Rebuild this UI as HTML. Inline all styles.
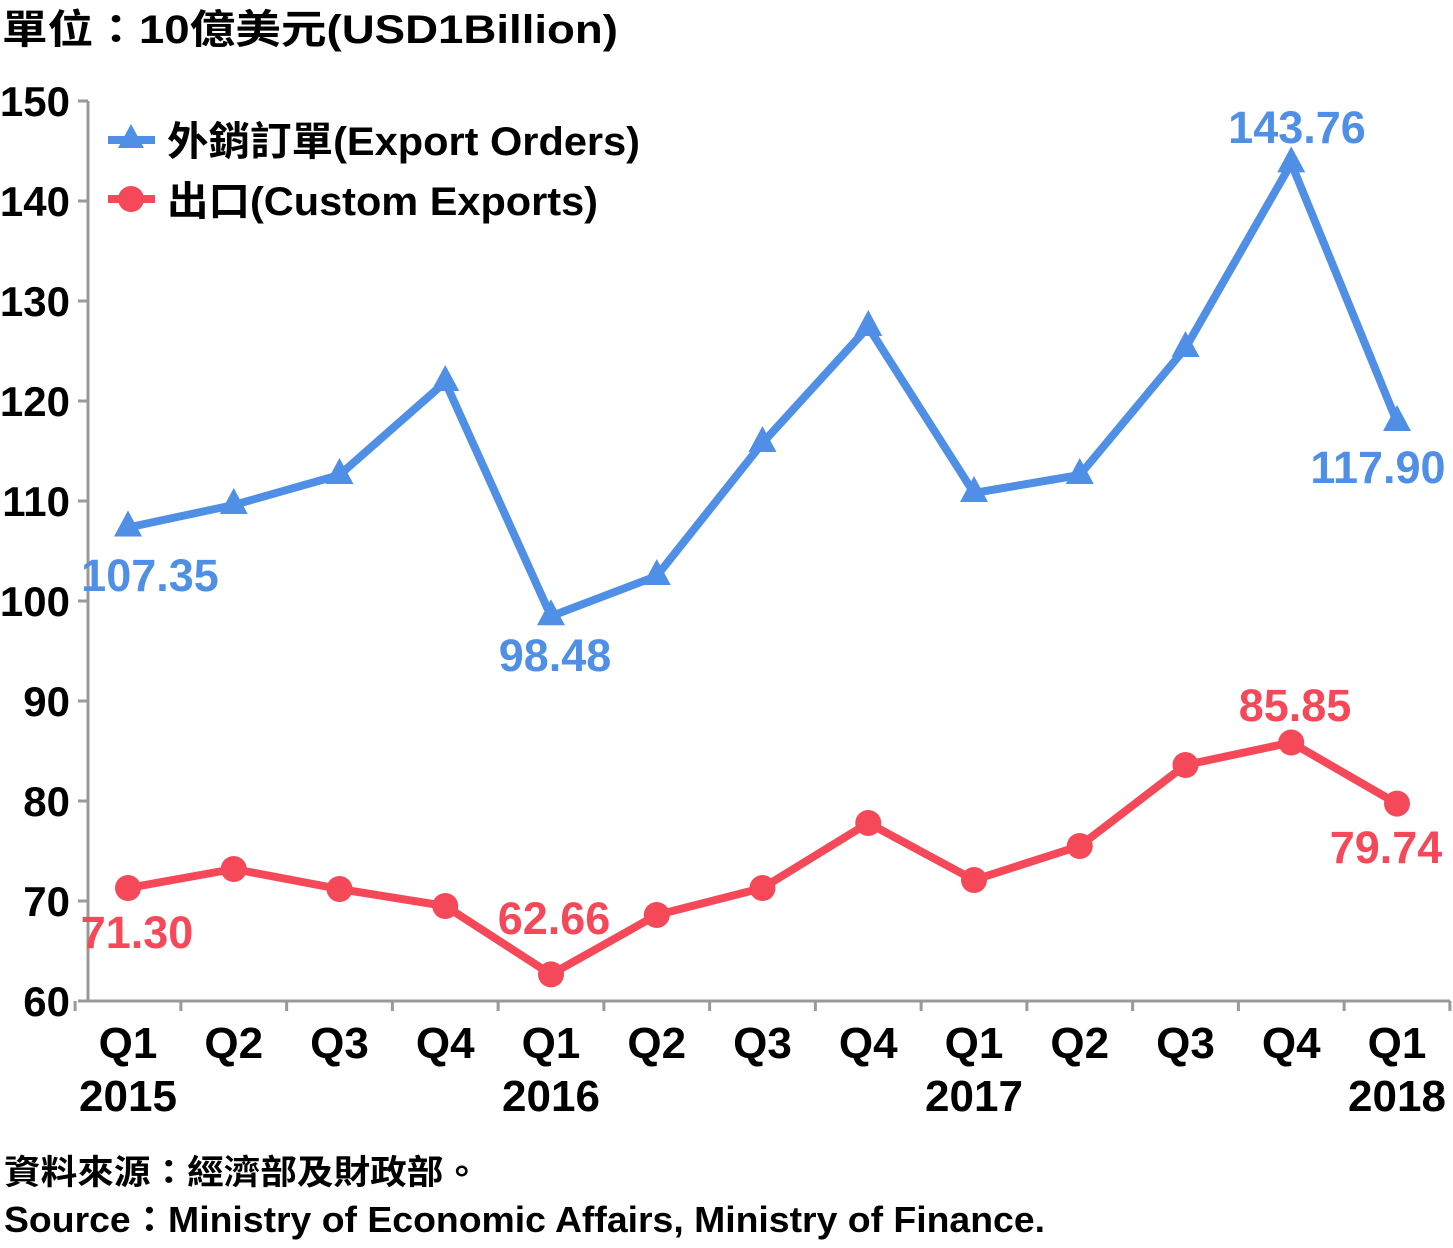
<!DOCTYPE html>
<html><head><meta charset="utf-8"><style>
body{margin:0;background:#fff;width:1453px;height:1243px;overflow:hidden;font-family:"Liberation Sans","Noto Sans CJK TC",sans-serif;}
svg text{font-family:"Liberation Sans","Noto Sans CJK TC",sans-serif;font-weight:bold;}
</style></head><body>
<svg id="chart" width="1453" height="1243" xmlns="http://www.w3.org/2000/svg">
<text x="2" y="43" font-size="40" textLength="616" lengthAdjust="spacingAndGlyphs" fill="#000">單位：10億美元(USD1Billion)</text>
<g id="axes"></g>
<g id="series"></g>
<g>
<line x1="108" y1="140" x2="155" y2="140" stroke="#4f8fe6" stroke-width="8"/>
<polygon points="131,124 118,148 144,148" fill="#4f8fe6"/>
<text x="167" y="155" font-size="40" textLength="473" lengthAdjust="spacingAndGlyphs">外銷訂單(Export Orders)</text>
<line x1="108" y1="199" x2="155" y2="199" stroke="#f5495a" stroke-width="8"/>
<circle cx="131" cy="199" r="13" fill="#f5495a"/>
<text x="167" y="215" font-size="40" textLength="431" lengthAdjust="spacingAndGlyphs">出口(Custom Exports)</text>
</g>
<text x="4" y="1184" font-size="34" font-weight="normal" textLength="476" lengthAdjust="spacingAndGlyphs">資料來源：經濟部及財政部。</text>
<text x="4" y="1232" font-size="36" textLength="1041" lengthAdjust="spacingAndGlyphs">Source：Ministry of Economic Affairs, Ministry of Finance.</text>
</svg>
<script>
const quarters=["Q1","Q2","Q3","Q4","Q1","Q2","Q3","Q4","Q1","Q2","Q3","Q4","Q1"];
const years=["2015","","","","2016","","","","2017","","","","2018"];
const exportOrders=[107.35,109.6,112.6,121.9,98.48,102.5,115.8,127.4,110.8,112.6,125.3,143.76,117.90];
const customExports=[71.30,73.2,71.2,69.5,62.66,68.6,71.3,77.8,72.1,75.5,83.6,85.85,79.74];
const yTicks=[60,70,80,90,100,110,120,130,140,150];
const ns="http://www.w3.org/2000/svg";
const X=i=>128+i*105.75;
const Y=v=>101+(150-v)*10;
function mk(tag,attrs,parent,txt){const e=document.createElementNS(ns,tag);for(const k in attrs)e.setAttribute(k,attrs[k]);if(txt!==undefined)e.textContent=txt;parent.appendChild(e);return e;}
const axes=document.getElementById('axes'),ser=document.getElementById('series');
let e=mk('line',{x1:88,y1:101,x2:88,y2:1001,stroke:'#999','stroke-width':3},axes);


e=mk('line',{x1:88,y1:1001,x2:1450,y2:1001,stroke:'#999','stroke-width':3},axes);


yTicks.forEach(v=>{
 mk('line',{x1:78,y1:Y(v),x2:88,y2:Y(v),stroke:'#999','stroke-width':3},axes);
 const t=mk('text',{x:70,y:Y(v)+15,'font-size':42,'text-anchor':'end'},axes,String(v));
 
 
});
for(let i=0;i<=quarters.length;i++){const x=X(i)-52.875;mk('line',{x1:x,y1:1001,x2:x,y2:1011,stroke:'#999','stroke-width':3},axes);}
quarters.forEach((q,i)=>{
 const t=mk('text',{x:X(i),y:1058,'font-size':44,'text-anchor':'middle'},axes,q);
 
 
 if(years[i]){const y=mk('text',{x:X(i),y:1111,'font-size':44,'text-anchor':'middle'},axes,years[i]);
 
 }
});
function line(vals,color,name){
 const p=mk('polyline',{points:vals.map((v,i)=>X(i)+','+Y(v)).join(' '),fill:'none',stroke:color,'stroke-width':8,'stroke-linejoin':'round'},ser);
 
 
}
line(exportOrders,'#4f8fe6','export-orders');
line(customExports,'#f5495a','custom-exports');
exportOrders.forEach((v,i)=>{const x=X(i),y=Y(v);
 const m=mk('polygon',{points:`${x},${y-17} ${x-14},${y+9} ${x+14},${y+9}`,fill:'#4f8fe6'},ser);
 
 });
customExports.forEach((v,i)=>{
 const m=mk('circle',{cx:X(i),cy:Y(v),r:13,fill:'#f5495a'},ser);
 
 });
const blueLabels=[[0,150,591],[4,555,671],[11,1297,143],[12,1378,483]];
blueLabels.forEach(([i,x,y])=>{const t=mk('text',{x:x,y:y,'font-size':45,'text-anchor':'middle',fill:'#4f8fe6'},ser,exportOrders[i].toFixed(2));
 
 });
const redLabels=[[0,137,948],[4,554,934],[11,1295,721],[12,1386,863]];
redLabels.forEach(([i,x,y])=>{const t=mk('text',{x:x,y:y,'font-size':45,'text-anchor':'middle',fill:'#f5495a'},ser,customExports[i].toFixed(2));
 
 });
</script>
</body></html>
